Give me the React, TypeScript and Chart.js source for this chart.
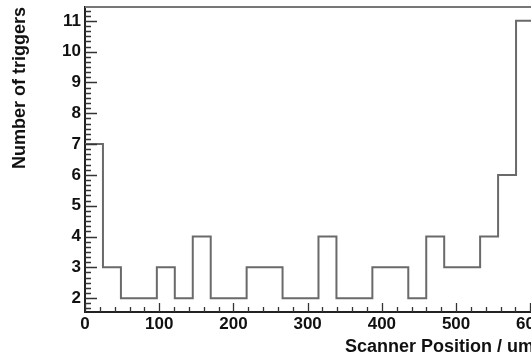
import React, { useEffect, useRef } from "react";
import { Chart, registerables } from "chart.js";

Chart.register(...registerables);

// Histogram bin edges (um) and counts per bin
const binEdges = [
  0, 24.2, 48.4, 72.6, 96.8, 121, 145.2, 169.4, 193.6, 217.8, 242, 266.2, 290.4,
  314.6, 338.8, 363, 387.2, 411.4, 435.6, 459.8, 484, 508.2, 532.4, 556.6, 580.8, 605,
];
const triggerCounts = [7, 3, 2, 2, 3, 2, 4, 2, 2, 3, 3, 2, 2, 4, 2, 2, 3, 3, 2, 4, 3, 3, 4, 6, 11];
const xTickValues = [0, 100, 200, 300, 400, 500, 600];
const yTickValues = [2, 3, 4, 5, 6, 7, 8, 9, 10, 11];
const xTitle = "Scanner Position / um";
const yTitle = "Number of triggers";

const X_MIN = 0;
const X_MAX = 605;
const Y_MIN = 1.55;
const Y_MAX = 11.45;

const FONT = "'Liberation Sans', Arial, Helvetica, sans-serif";

const rootFrame = {
  id: "rootFrame",
  afterDatasetsDraw(chart: any) {
    const { ctx, chartArea: a, scales } = chart;
    const x = scales.x;
    const y = scales.y;
    ctx.save();
    ctx.strokeStyle = "#777777";
    ctx.lineWidth = 2;
    ctx.beginPath();
    ctx.moveTo(a.left, a.top);
    ctx.lineTo(a.right, a.top);
    ctx.lineTo(a.right, a.bottom);
    ctx.stroke();

    ctx.strokeStyle = "#333333";
    ctx.lineWidth = 1.3;
    ctx.beginPath();
    for (let v = X_MIN; v <= X_MAX; v += 20) {
      const px = Math.round(x.getPixelForValue(v)) + 0.5;
      const len = v % 100 === 0 ? 9 : 5;
      ctx.moveTo(px, a.bottom);
      ctx.lineTo(px, a.bottom - len);
    }
    for (let k = Math.ceil(Y_MIN * 6); k <= Math.floor(Y_MAX * 6); k++) {
      const py = Math.round(y.getPixelForValue(k / 6)) + 0.5;
      const len = k % 6 === 0 ? 12 : 6;
      ctx.moveTo(a.left, py);
      ctx.lineTo(a.left + len, py);
    }
    ctx.stroke();
    ctx.restore();
  },
};

export default function App() {
  const ref = useRef<HTMLCanvasElement | null>(null);

  useEffect(() => {
    if (!ref.current) return;
    const points = binEdges.map((e, i) => ({
      x: e,
      y: triggerCounts[Math.min(i, triggerCounts.length - 1)],
    }));
    const chart = new Chart(ref.current, {
      type: "line",
      data: {
        datasets: [
          {
            data: points,
            stepped: "before",
            borderColor: "#6a6a6a",
            borderWidth: 2,
            pointRadius: 0,
            fill: false,
          },
        ],
      },
      options: {
        animation: false,
        responsive: false,
        devicePixelRatio: 1,
        layout: { padding: { top: 7, right: 11, left: 0, bottom: 0 } },
        plugins: {
          legend: { display: false },
          tooltip: { enabled: false },
          title: { display: false },
        },
        scales: {
          x: {
            type: "linear",
            min: X_MIN,
            max: X_MAX,
            grid: { display: false, drawTicks: false },
            border: { display: true, color: "#222222", width: 2 },
            afterBuildTicks: (s: any) => {
              s.ticks = xTickValues.map((v) => ({ value: v }));
            },
            afterFit: (s: any) => {
              s.height = 44;
              s.paddingLeft = 0;
              s.paddingRight = 0;
              s.paddingTop = 0;
              s.paddingBottom = 0;
            },
            ticks: {
              padding: 2,
              autoSkip: false,
              maxRotation: 0,
              color: "#111111",
              font: { family: FONT, size: 17, weight: "bold" },
            },
            title: {
              display: true,
              text: xTitle,
              align: "end",
              color: "#111111",
              padding: { top: 0, bottom: 0 },
              font: { family: FONT, size: 18, weight: "bold", lineHeight: 1 },
            },
          },
          y: {
            type: "linear",
            min: Y_MIN,
            max: Y_MAX,
            grid: { display: false, drawTicks: false },
            border: { display: true, color: "#222222", width: 2 },
            afterBuildTicks: (s: any) => {
              s.ticks = yTickValues.map((v) => ({ value: v }));
            },
            afterFit: (s: any) => {
              s.width = 85;
              s.paddingLeft = 0;
              s.paddingRight = 0;
              s.paddingTop = 0;
              s.paddingBottom = 0;
            },
            ticks: {
              padding: 4,
              autoSkip: false,
              color: "#111111",
              font: { family: FONT, size: 17, weight: "bold" },
            },
            title: {
              display: true,
              text: yTitle,
              align: "end",
              color: "#111111",
              padding: { top: 11, bottom: 0 },
              font: { family: FONT, size: 18, weight: "bold", lineHeight: 1 },
            },
          },
        },
      },
      plugins: [rootFrame],
    } as any);
    return () => chart.destroy();
  }, []);

  return (
    <div
      style={{
        position: "fixed",
        left: 0,
        top: 0,
        width: 531,
        height: 356,
        overflow: "hidden",
        background: "#ffffff",
      }}
    >
      <canvas ref={ref} width={545} height={356} style={{ display: "block", width: 545, height: 356 }} />
    </div>
  );
}
